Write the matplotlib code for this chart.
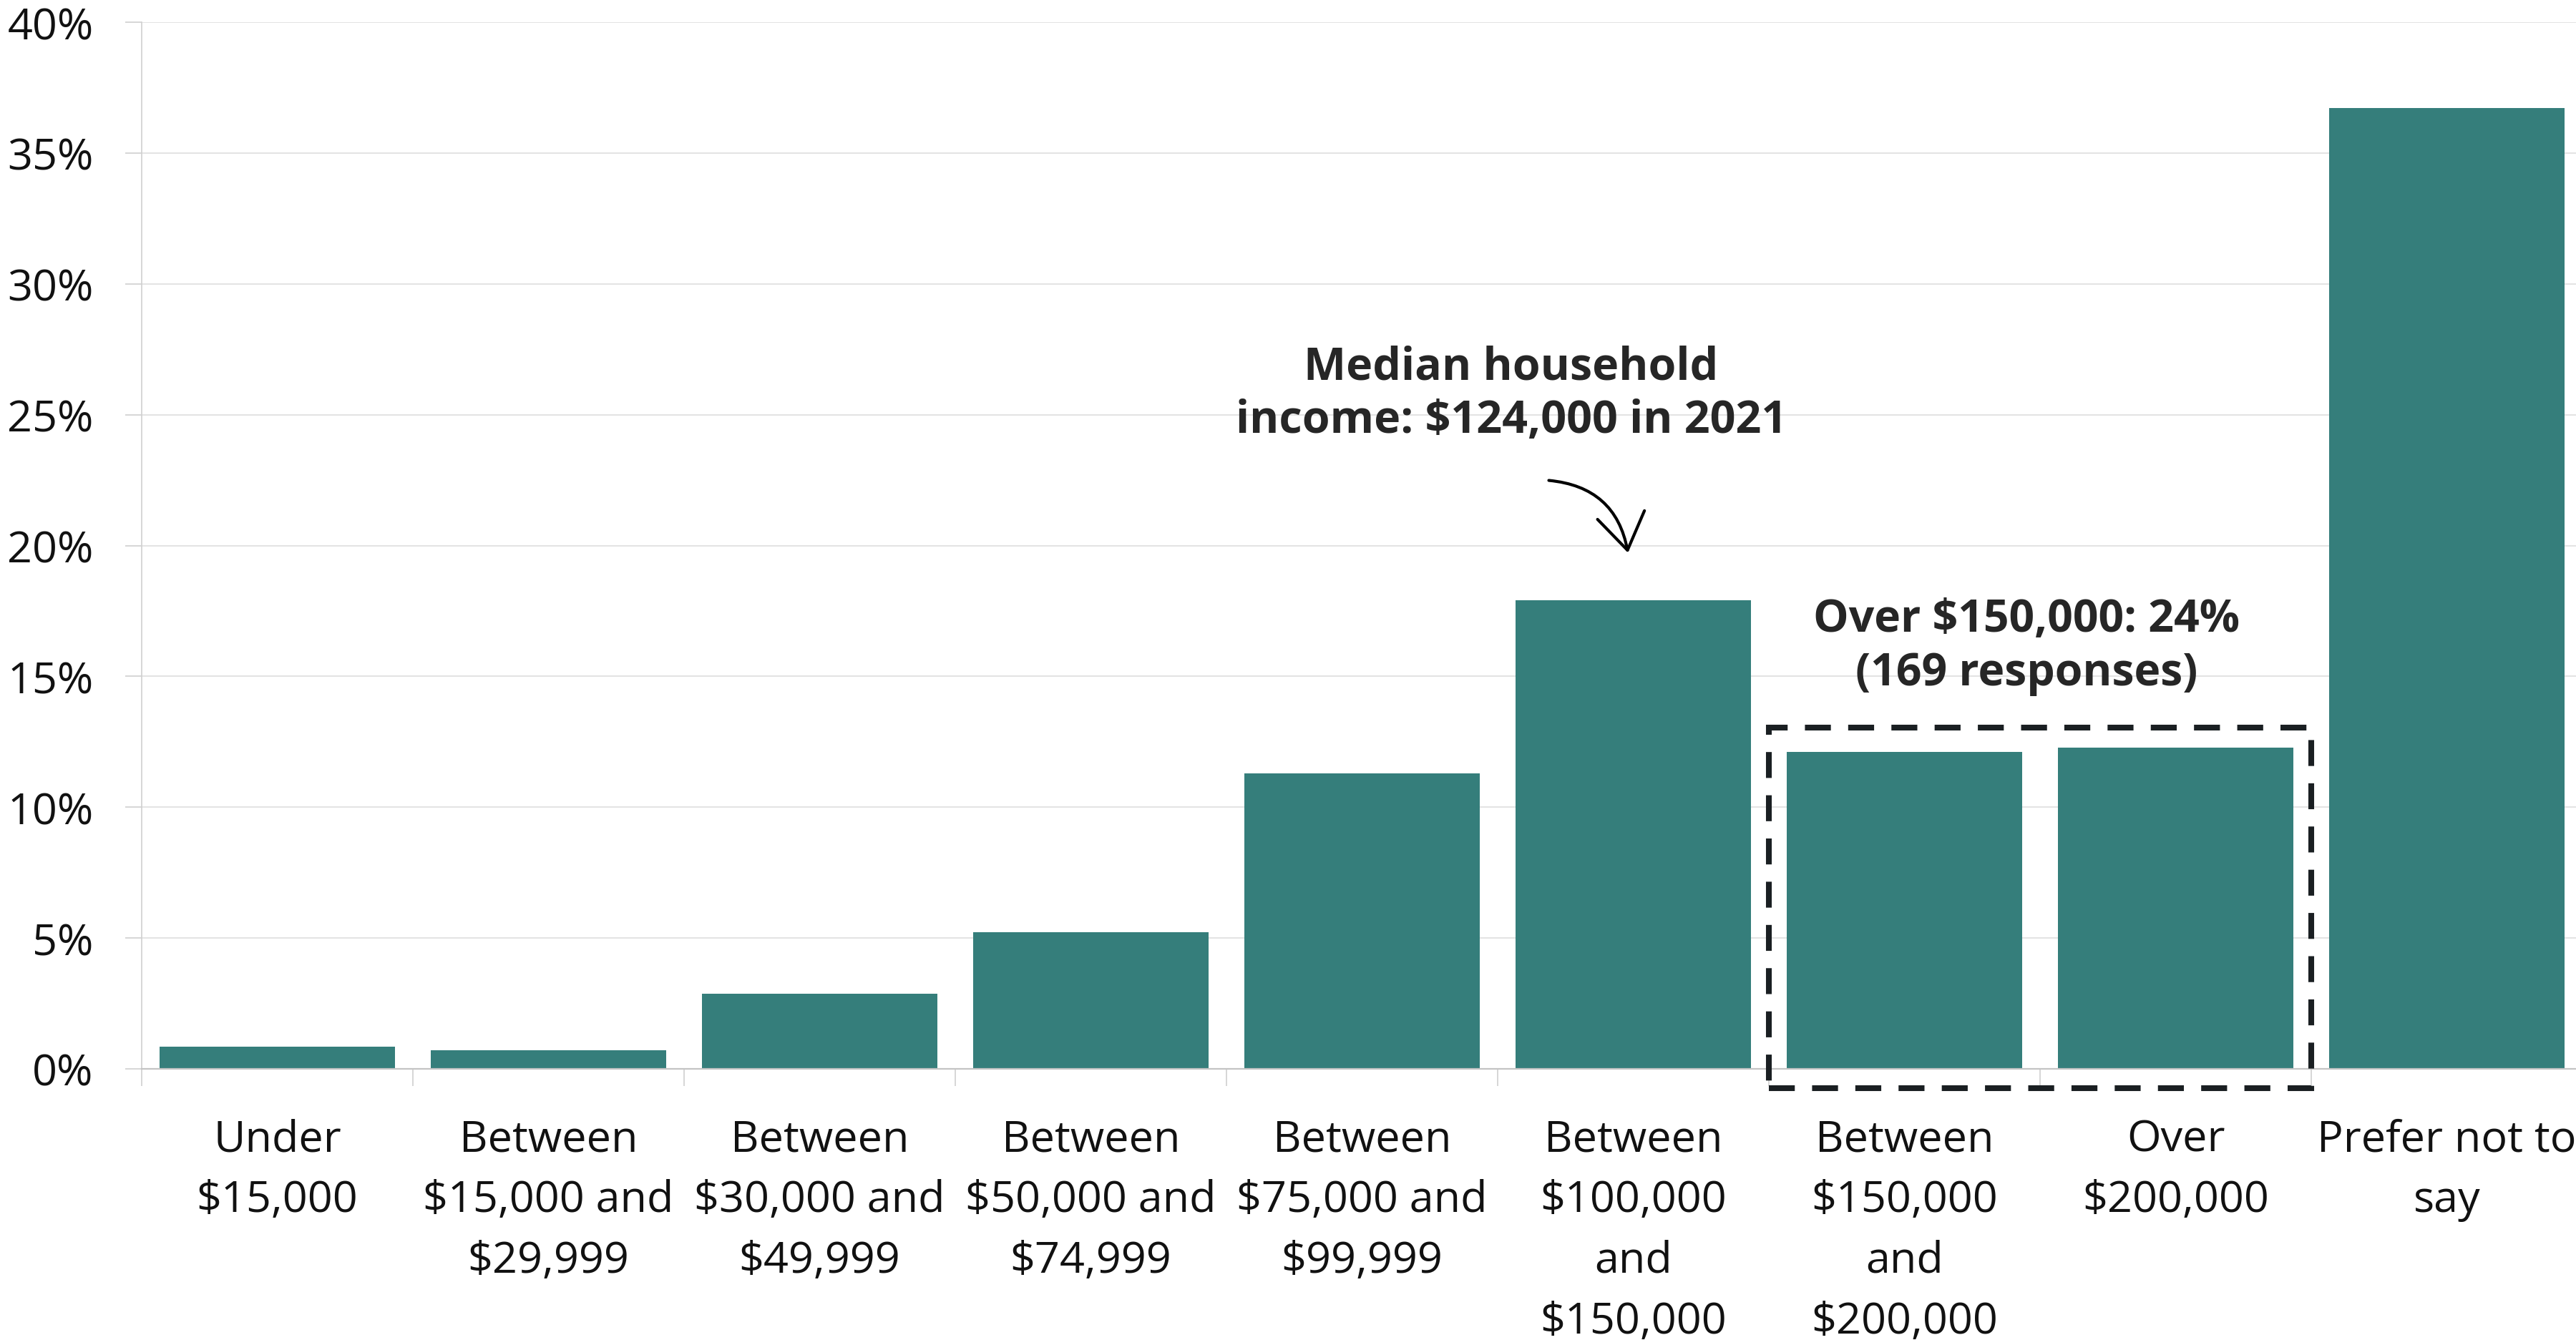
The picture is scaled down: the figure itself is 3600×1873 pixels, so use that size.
import matplotlib
matplotlib.use("Agg")
import matplotlib.pyplot as plt
from matplotlib.patches import Rectangle, FancyArrowPatch
from matplotlib.ticker import FixedLocator

plt.rcParams['font.family'] = ['Open Sans', 'DejaVu Sans']

categories = [
    "Under\n$15,000",
    "Between\n$15,000 and\n$29,999",
    "Between\n$30,000 and\n$49,999",
    "Between\n$50,000 and\n$74,999",
    "Between\n$75,000 and\n$99,999",
    "Between\n$100,000\nand\n$150,000",
    "Between\n$150,000\nand\n$200,000",
    "Over\n$200,000",
    "Prefer not to\nsay",
]
shares = [0.85, 0.7, 2.86, 5.22, 11.3, 17.9, 12.11, 12.27, 36.71]
y_ticks = [0, 5, 10, 15, 20, 25, 30, 35, 40]
y_tick_labels = [f"{v}%" for v in y_ticks]

median_note = "Median household\nincome: $124,000 in 2021"
over_note = "Over $150,000: 24%\n(169 responses)"

bar_color = '#357e7b'
grid_color = '#e3e3e3'
tick_color = '#d0d0d0'
text_color = '#111111'
note_color = '#262626'

W, H = 3600, 1874
fig = plt.figure(figsize=(18, 9.37), dpi=200)
ax = fig.add_axes([198 / W, (H - 1495) / H, (3609 - 198) / W, (1495 - 32) / H])

x = list(range(len(categories)))
ax.bar(x, shares, width=0.87, color=bar_color, zorder=2)

ax.set_xlim(-0.5, len(categories) - 0.5)
ax.set_ylim(0, 40)

ax.set_yticks(y_ticks)
ax.set_yticklabels(y_tick_labels)
ax.set_xticks(x)
ax.set_xticklabels(categories, linespacing=1.54)
ax.xaxis.set_minor_locator(FixedLocator([i - 0.5 for i in range(len(categories) + 1)]))

ax.tick_params(axis='y', length=8.3, width=0.6, color=tick_color, pad=16,
               labelsize=22, labelcolor=text_color)
ax.tick_params(axis='x', which='major', length=0, pad=24.5,
               labelsize=22, labelcolor=text_color)
ax.tick_params(axis='x', which='minor', length=8.6, width=0.6, color=tick_color)

ax.grid(axis='y', color=grid_color, linewidth=0.7, zorder=0)
ax.set_axisbelow(True)
for side in ['top', 'right']:
    ax.spines[side].set_visible(False)
ax.spines['left'].set_color(tick_color)
ax.spines['left'].set_linewidth(0.6)
ax.spines['bottom'].set_color('#c4c4c4')
ax.spines['bottom'].set_linewidth(0.8)

# annotation: median household income
ax.text(4.55, 25.8, median_note, ha='center', va='center', fontsize=22.6,
        fontweight='bold', color=note_color, linespacing=1.25)
arrow = FancyArrowPatch((4.674, 22.5), (4.983, 19.57),
                        connectionstyle="arc3,rad=-0.4",
                        arrowstyle="->,head_length=0.9,head_width=0.6",
                        mutation_scale=20, color='black', linewidth=1.5)
ax.add_patch(arrow)

# dashed box around the two top brackets
box = Rectangle((5.5, -0.74), 2.0, 13.04 + 0.74, fill=False,
                edgecolor='#1a1f22', linewidth=2.9, linestyle=(0, (4.5, 3)),
                clip_on=False, zorder=3)
ax.add_patch(box)
ax.text(6.45, 16.15, over_note, ha='center', va='center', fontsize=22.5,
        fontweight='bold', color=note_color, linespacing=1.25)

fig.savefig('out.png', dpi=200, facecolor='white')
